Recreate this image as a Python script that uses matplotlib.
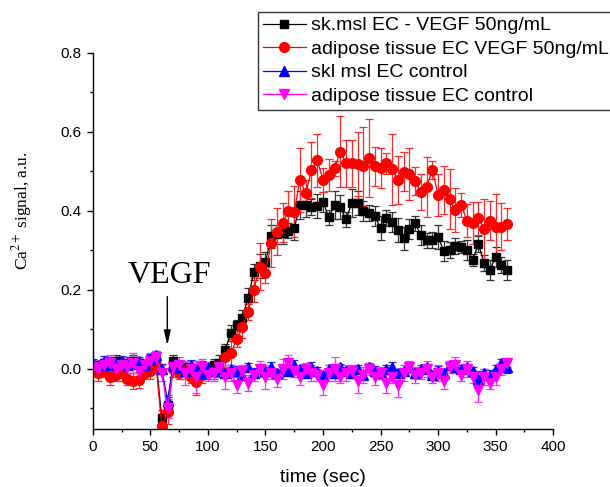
import numpy as np
import matplotlib
matplotlib.use("Agg")
import matplotlib.pyplot as plt
from matplotlib.ticker import MultipleLocator

# --- datos (tiempo cada 5 s) ---
tiempo = np.arange(0, 361, 5)

sk_vegf = [0.01, 0.005, 0.015, 0.01, 0.02, 0.015, 0.01, 0.02, 0.015, 0.01, 0.015, 0.02,
           -0.125, -0.09, 0.02, 0.0, 0.005, -0.005, 0.0, 0.005,
           0.0, 0.01, 0.015, 0.048, 0.09, 0.11, 0.13, 0.18, 0.246, 0.26, 0.27, 0.335, 0.34, 0.345, 0.35,
           0.356, 0.415, 0.415, 0.409, 0.412, 0.423, 0.383, 0.415, 0.409, 0.378, 0.42, 0.419, 0.40,
           0.394, 0.387, 0.356, 0.381, 0.372, 0.351,
           0.33, 0.353, 0.368, 0.339, 0.325, 0.327, 0.333, 0.298, 0.30, 0.311, 0.308, 0.30, 0.276,
           0.316, 0.267, 0.25, 0.284, 0.263, 0.25]
sk_vegf_err = [0.01, 0.015, 0.01, 0.02, 0.015, 0.01, 0.02, 0.015, 0.01, 0.015, 0.02, 0.01,
               0.02, 0.02, 0.015, 0.01, 0.015, 0.01, 0.02, 0.015,
               0.01, 0.015, 0.02, 0.015, 0.02, 0.015, 0.02, 0.025, 0.02, 0.03, 0.025, 0.03, 0.025, 0.03, 0.02,
               0.03, 0.035, 0.03, 0.02, 0.03, 0.025, 0.02, 0.035, 0.03, 0.02, 0.035, 0.03, 0.025, 0.02,
               0.025, 0.03, 0.02, 0.025, 0.03,
               0.03, 0.025, 0.02, 0.025, 0.02, 0.02, 0.03, 0.025, 0.02, 0.02, 0.015, 0.025, 0.015,
               0.02, 0.02, 0.025, 0.025, 0.02, 0.025]

adip_vegf = [0.0, -0.01, -0.005, -0.02, -0.015, -0.01, -0.025, -0.03, -0.028, -0.01, -0.005, 0.01,
             -0.145, -0.11, 0.0, -0.01, -0.005, -0.02, -0.032, -0.015,
             -0.01, -0.005, 0.0, 0.031, 0.04, 0.075, 0.107, 0.145, 0.20, 0.259, 0.243, 0.318, 0.347, 0.37, 0.40,
             0.398, 0.478, 0.444, 0.503, 0.528, 0.478, 0.49, 0.507, 0.549, 0.52, 0.52, 0.518, 0.512,
             0.533, 0.512, 0.508, 0.52, 0.505, 0.478,
             0.499, 0.493, 0.475, 0.448, 0.461, 0.503, 0.44, 0.453, 0.429, 0.402, 0.415, 0.375, 0.37,
             0.381, 0.353, 0.375, 0.36, 0.36, 0.367]
adip_vegf_err = [0.015, 0.02, 0.015, 0.02, 0.015, 0.02, 0.015, 0.02, 0.02, 0.015, 0.02, 0.02,
                 0.04, 0.03, 0.02, 0.015, 0.02, 0.015, 0.035, 0.02,
                 0.015, 0.02, 0.02, 0.025, 0.035, 0.02, 0.03, 0.02, 0.03, 0.06, 0.025, 0.06, 0.06, 0.05, 0.05,
                 0.065, 0.08, 0.035, 0.07, 0.067, 0.03, 0.04, 0.02, 0.09, 0.06, 0.06, 0.08, 0.1, 0.098,
                 0.05, 0.05, 0.027, 0.09, 0.06,
                 0.05, 0.065, 0.036, 0.046, 0.076, 0.023, 0.052, 0.06, 0.076, 0.055, 0.03, 0.042, 0.053,
                 0.042, 0.076, 0.05, 0.083, 0.06, 0.04]

sk_ctrl = [0.015, 0.01, 0.02, 0.01, 0.015, 0.02, 0.01, 0.015, 0.02, 0.01, 0.025, 0.035,
           0.0, -0.08, 0.01, 0.005, -0.005, 0.01, 0.0, -0.01,
           0.005, -0.005, 0.0, -0.01, 0.0, -0.005, -0.015, 0.005, -0.01, 0.0, -0.005, 0.005, -0.01, 0.0, -0.005,
           0.01, 0.0, -0.01, 0.005, -0.005, -0.015, 0.0, -0.01, 0.005, -0.005, -0.01, 0.0, -0.015,
           0.005, -0.005, -0.01, 0.0, 0.005, -0.01,
           -0.005, 0.005, -0.01, 0.0, 0.005, -0.015, -0.005, -0.01, 0.01, 0.005, 0.0, 0.005, -0.005,
           -0.025, -0.01, -0.015, 0.0, 0.014, 0.005]
sk_ctrl_err = [0.01, 0.008, 0.012, 0.01, 0.008, 0.012, 0.01, 0.015, 0.01, 0.008, 0.012, 0.01,
               0.012, 0.015, 0.01, 0.008, 0.01, 0.012, 0.008, 0.01,
               0.008, 0.01, 0.012, 0.008, 0.01, 0.012, 0.008, 0.01, 0.012, 0.008, 0.01, 0.012, 0.01, 0.008, 0.01,
               0.012, 0.008, 0.01, 0.012, 0.01, 0.008, 0.01, 0.012, 0.008, 0.01, 0.012, 0.01, 0.008,
               0.01, 0.012, 0.008, 0.01, 0.012, 0.01,
               0.008, 0.01, 0.012, 0.01, 0.008, 0.01, 0.012, 0.008, 0.01, 0.012, 0.01, 0.008, 0.01,
               0.02, 0.01, 0.012, 0.01, 0.012, 0.015]

adip_ctrl = [0.005, 0.0, 0.01, 0.015, 0.0, 0.01, 0.005, 0.015, -0.005, 0.01, 0.02, 0.03,
             -0.01, -0.10, 0.005, 0.01, -0.01, 0.0, -0.02, 0.005,
             -0.015, -0.01, 0.005, -0.02, -0.01, -0.04, -0.005, -0.035, -0.015, 0.0, -0.02, -0.01, -0.025, 0.0, 0.015,
             -0.005, -0.02, 0.0, -0.01, -0.015, -0.04, -0.01, 0.0, -0.02, -0.01, -0.005, -0.03, -0.015,
             0.0, -0.02, -0.01, -0.035, -0.02, -0.04,
             -0.01, 0.005, -0.015, -0.01, 0.0, -0.02, -0.01, -0.03, 0.005, 0.01, -0.015, 0.0, -0.02,
             -0.053, -0.02, -0.035, -0.02, 0.0, 0.014]
adip_ctrl_err = [0.015, 0.02, 0.015, 0.02, 0.015, 0.02, 0.015, 0.025, 0.02, 0.015, 0.02, 0.015,
                 0.02, 0.025, 0.015, 0.02, 0.03, 0.015, 0.04, 0.02,
                 0.015, 0.02, 0.015, 0.03, 0.02, 0.02, 0.015, 0.02, 0.015, 0.02, 0.03, 0.015, 0.02, 0.025, 0.02,
                 0.015, 0.02, 0.015, 0.02, 0.015, 0.025, 0.02, 0.03, 0.015, 0.02, 0.015, 0.03, 0.02,
                 0.015, 0.02, 0.015, 0.025, 0.015, 0.03,
                 0.02, 0.015, 0.02, 0.015, 0.02, 0.015, 0.02, 0.02, 0.015, 0.02, 0.015, 0.02, 0.015,
                 0.03, 0.02, 0.015, 0.02, 0.015, 0.01]

series = [
    ("sk.msl EC - VEGF 50ng/mL", sk_vegf, sk_vegf_err, "black", "s", 6, "#333333"),
    ("adipose tissue EC VEGF 50ng/mL", adip_vegf, adip_vegf_err, "red", "o", 7, "#ff2a2a"),
    ("skl msl EC control", sk_ctrl, sk_ctrl_err, "blue", "^", 6.5, "#2a2aff"),
    ("adipose tissue EC control", adip_ctrl, adip_ctrl_err, "magenta", "v", 7, "#ff2aff"),
]

plt.rcParams["font.family"] = ["Liberation Sans", "DejaVu Sans"]

fig = plt.figure(figsize=(6.1, 4.87), dpi=100)
ax = fig.add_axes([0.152, 0.119, 0.755, 0.773])

lineas, nombres = [], []
for nombre, y, e, color, marker, ms, ecol in series:
    cont = ax.errorbar(tiempo, y, yerr=e, fmt="-" + marker, color=color, ecolor=ecol,
                       lw=0.9, elinewidth=0.9, capsize=2.8, capthick=0.9,
                       markersize=ms, markeredgecolor=color)
    lineas.append(cont[0])
    nombres.append(nombre)

ax.set_xlim(0, 400)
ax.set_ylim(-0.152, 0.8)
ax.xaxis.set_major_locator(MultipleLocator(50))
ax.xaxis.set_minor_locator(MultipleLocator(25))
ax.yaxis.set_major_locator(MultipleLocator(0.2))
ax.yaxis.set_minor_locator(MultipleLocator(0.1))
ax.tick_params(which="major", direction="out", length=4.5, width=1, labelsize=11)
ax.tick_params(which="minor", direction="out", length=2.5, width=1)
for lado in ["top", "right"]:
    ax.spines[lado].set_visible(False)
for lado in ["left", "bottom"]:
    ax.spines[lado].set_linewidth(1)

ax.set_xlabel("time (sec)", fontsize=14, labelpad=11)
fig.text(22 / 610, 1 - 211 / 487, r"Ca$^{2+}$ signal, a.u.", rotation=90,
         ha="center", va="center", fontsize=12.5, family="Liberation Serif",
         math_fontfamily="stix")

ax.annotate("", xy=(64.8, 0.052), xytext=(64.8, 0.19),
            arrowprops=dict(arrowstyle="-|>,head_length=0.9,head_width=0.2",
                            color="black", lw=1, mutation_scale=10))
ax.text(30, 0.218, "VEGF", fontsize=23, family="Liberation Serif", va="baseline")

leg = ax.legend(lineas, nombres, loc="upper left", bbox_to_anchor=(258 / 610, 1 - 12 / 487),
                bbox_transform=fig.transFigure, borderaxespad=0, fontsize=14,
                numpoints=1, handlelength=2.2, handletextpad=0.3,
                labelspacing=0.3, borderpad=0.25, fancybox=False, framealpha=1)
leg.get_frame().set_edgecolor("#333333")
leg.get_frame().set_linewidth(1)

fig.savefig("out.png", dpi=100)
